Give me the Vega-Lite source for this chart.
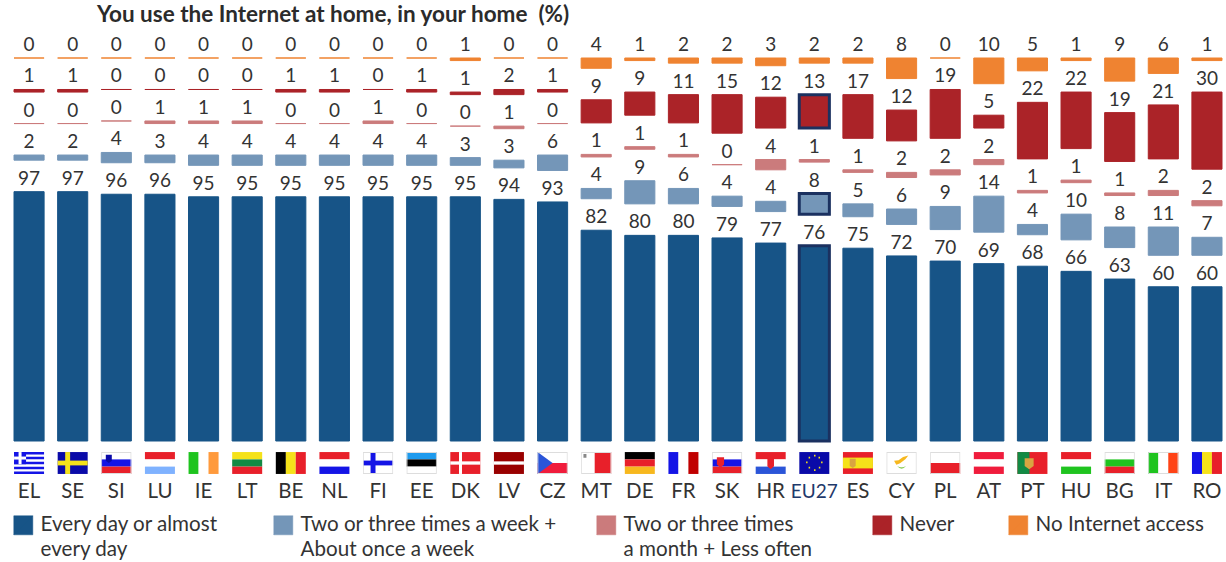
{"$schema":"https://vega.github.io/schema/vega-lite/v6.json","width":1208,"height":383,"autosize":{"type":"none"},"padding":{"left":14,"top":58,"right":4,"bottom":121},"background":"white","config":{"view":{"stroke":null},"text":{"font":"Lato"}},
"title":{"text":"You use the Internet at home, in your home \u00a0(%)","anchor":"start","frame":"group","dx":83,"offset":10,"fontSize":22.5,"fontWeight":"bold","font":"Lato","color":"#2b2b2b"},
"datasets":{"answers":[
{"country":"EL","series":"daily","value":97},{"country":"EL","series":"weekly","value":2},{"country":"EL","series":"monthly","value":0},{"country":"EL","series":"never","value":1},{"country":"EL","series":"no_access","value":0},
{"country":"SE","series":"daily","value":97},{"country":"SE","series":"weekly","value":2},{"country":"SE","series":"monthly","value":0},{"country":"SE","series":"never","value":1},{"country":"SE","series":"no_access","value":0},
{"country":"SI","series":"daily","value":96},{"country":"SI","series":"weekly","value":4},{"country":"SI","series":"monthly","value":0},{"country":"SI","series":"never","value":0},{"country":"SI","series":"no_access","value":0},
{"country":"LU","series":"daily","value":96},{"country":"LU","series":"weekly","value":3},{"country":"LU","series":"monthly","value":1},{"country":"LU","series":"never","value":0},{"country":"LU","series":"no_access","value":0},
{"country":"IE","series":"daily","value":95},{"country":"IE","series":"weekly","value":4},{"country":"IE","series":"monthly","value":1},{"country":"IE","series":"never","value":0},{"country":"IE","series":"no_access","value":0},
{"country":"LT","series":"daily","value":95},{"country":"LT","series":"weekly","value":4},{"country":"LT","series":"monthly","value":1},{"country":"LT","series":"never","value":0},{"country":"LT","series":"no_access","value":0},
{"country":"BE","series":"daily","value":95},{"country":"BE","series":"weekly","value":4},{"country":"BE","series":"monthly","value":0},{"country":"BE","series":"never","value":1},{"country":"BE","series":"no_access","value":0},
{"country":"NL","series":"daily","value":95},{"country":"NL","series":"weekly","value":4},{"country":"NL","series":"monthly","value":0},{"country":"NL","series":"never","value":1},{"country":"NL","series":"no_access","value":0},
{"country":"FI","series":"daily","value":95},{"country":"FI","series":"weekly","value":4},{"country":"FI","series":"monthly","value":1},{"country":"FI","series":"never","value":0},{"country":"FI","series":"no_access","value":0},
{"country":"EE","series":"daily","value":95},{"country":"EE","series":"weekly","value":4},{"country":"EE","series":"monthly","value":0},{"country":"EE","series":"never","value":1},{"country":"EE","series":"no_access","value":0},
{"country":"DK","series":"daily","value":95},{"country":"DK","series":"weekly","value":3},{"country":"DK","series":"monthly","value":0},{"country":"DK","series":"never","value":1},{"country":"DK","series":"no_access","value":1},
{"country":"LV","series":"daily","value":94},{"country":"LV","series":"weekly","value":3},{"country":"LV","series":"monthly","value":1},{"country":"LV","series":"never","value":2},{"country":"LV","series":"no_access","value":0},
{"country":"CZ","series":"daily","value":93},{"country":"CZ","series":"weekly","value":6},{"country":"CZ","series":"monthly","value":0},{"country":"CZ","series":"never","value":1},{"country":"CZ","series":"no_access","value":0},
{"country":"MT","series":"daily","value":82},{"country":"MT","series":"weekly","value":4},{"country":"MT","series":"monthly","value":1},{"country":"MT","series":"never","value":9},{"country":"MT","series":"no_access","value":4},
{"country":"DE","series":"daily","value":80},{"country":"DE","series":"weekly","value":9},{"country":"DE","series":"monthly","value":1},{"country":"DE","series":"never","value":9},{"country":"DE","series":"no_access","value":1},
{"country":"FR","series":"daily","value":80},{"country":"FR","series":"weekly","value":6},{"country":"FR","series":"monthly","value":1},{"country":"FR","series":"never","value":11},{"country":"FR","series":"no_access","value":2},
{"country":"SK","series":"daily","value":79},{"country":"SK","series":"weekly","value":4},{"country":"SK","series":"monthly","value":0},{"country":"SK","series":"never","value":15},{"country":"SK","series":"no_access","value":2},
{"country":"HR","series":"daily","value":77},{"country":"HR","series":"weekly","value":4},{"country":"HR","series":"monthly","value":4},{"country":"HR","series":"never","value":12},{"country":"HR","series":"no_access","value":3},
{"country":"EU27","series":"daily","value":76},{"country":"EU27","series":"weekly","value":8},{"country":"EU27","series":"monthly","value":1},{"country":"EU27","series":"never","value":13},{"country":"EU27","series":"no_access","value":2},
{"country":"ES","series":"daily","value":75},{"country":"ES","series":"weekly","value":5},{"country":"ES","series":"monthly","value":1},{"country":"ES","series":"never","value":17},{"country":"ES","series":"no_access","value":2},
{"country":"CY","series":"daily","value":72},{"country":"CY","series":"weekly","value":6},{"country":"CY","series":"monthly","value":2},{"country":"CY","series":"never","value":12},{"country":"CY","series":"no_access","value":8},
{"country":"PL","series":"daily","value":70},{"country":"PL","series":"weekly","value":9},{"country":"PL","series":"monthly","value":2},{"country":"PL","series":"never","value":19},{"country":"PL","series":"no_access","value":0},
{"country":"AT","series":"daily","value":69},{"country":"AT","series":"weekly","value":14},{"country":"AT","series":"monthly","value":2},{"country":"AT","series":"never","value":5},{"country":"AT","series":"no_access","value":10},
{"country":"PT","series":"daily","value":68},{"country":"PT","series":"weekly","value":4},{"country":"PT","series":"monthly","value":1},{"country":"PT","series":"never","value":22},{"country":"PT","series":"no_access","value":5},
{"country":"HU","series":"daily","value":66},{"country":"HU","series":"weekly","value":10},{"country":"HU","series":"monthly","value":1},{"country":"HU","series":"never","value":22},{"country":"HU","series":"no_access","value":1},
{"country":"BG","series":"daily","value":63},{"country":"BG","series":"weekly","value":8},{"country":"BG","series":"monthly","value":1},{"country":"BG","series":"never","value":19},{"country":"BG","series":"no_access","value":9},
{"country":"IT","series":"daily","value":60},{"country":"IT","series":"weekly","value":11},{"country":"IT","series":"monthly","value":2},{"country":"IT","series":"never","value":21},{"country":"IT","series":"no_access","value":6},
{"country":"RO","series":"daily","value":60},{"country":"RO","series":"weekly","value":7},{"country":"RO","series":"monthly","value":2},{"country":"RO","series":"never","value":30},{"country":"RO","series":"no_access","value":1}
],
"flags":[
{"c":"EL","p":"full","t":"white"},{"c":"EL","p":"grstripes","t":"blue"},{"c":"EL","p":"canton","t":"blue"},{"c":"EL","p":"cantonv","t":"white"},{"c":"EL","p":"cantonh","t":"white"},
{"c":"SE","p":"full","t":"navy"},{"c":"SE","p":"crossv","t":"yellow"},{"c":"SE","p":"crossh","t":"yellow"},
{"c":"SI","p":"h3a","t":"white"},{"c":"SI","p":"h3b","t":"blue"},{"c":"SI","p":"h3c","t":"red"},{"c":"SI","p":"shieldtl","t":"navy"},{"c":"SI","p":"frame","t":"grey"},
{"c":"LU","p":"h3a","t":"red"},{"c":"LU","p":"h3b","t":"white"},{"c":"LU","p":"h3c","t":"skyblue"},
{"c":"IE","p":"v3a","t":"green"},{"c":"IE","p":"v3b","t":"white"},{"c":"IE","p":"v3c","t":"orange"},
{"c":"LT","p":"h3a","t":"yellow"},{"c":"LT","p":"h3b","t":"darkgreen"},{"c":"LT","p":"h3c","t":"red"},
{"c":"BE","p":"v3a","t":"black"},{"c":"BE","p":"v3b","t":"yellow"},{"c":"BE","p":"v3c","t":"red"},
{"c":"NL","p":"h3a","t":"red"},{"c":"NL","p":"h3b","t":"white"},{"c":"NL","p":"h3c","t":"blue"},
{"c":"FI","p":"full","t":"white"},{"c":"FI","p":"crossv","t":"blue"},{"c":"FI","p":"crossh","t":"blue"},{"c":"FI","p":"frame","t":"grey"},
{"c":"EE","p":"h3a","t":"azure"},{"c":"EE","p":"h3b","t":"black"},{"c":"EE","p":"h3c","t":"white"},{"c":"EE","p":"frame","t":"grey"},
{"c":"DK","p":"full","t":"red"},{"c":"DK","p":"thinv","t":"white"},{"c":"DK","p":"thinh","t":"white"},
{"c":"LV","p":"full","t":"maroon"},{"c":"LV","p":"thinh","t":"white"},
{"c":"CZ","p":"h2a","t":"white"},{"c":"CZ","p":"h2b","t":"crimson"},{"c":"CZ","p":"hoist","t":"royal"},{"c":"CZ","p":"frame","t":"grey"},
{"c":"MT","p":"v2a","t":"white"},{"c":"MT","p":"v2b","t":"red"},{"c":"MT","p":"dot","t":"darkgrey"},{"c":"MT","p":"frame","t":"grey"},
{"c":"DE","p":"h3a","t":"black"},{"c":"DE","p":"h3b","t":"red"},{"c":"DE","p":"h3c","t":"gold"},
{"c":"FR","p":"v3a","t":"blue"},{"c":"FR","p":"v3b","t":"white"},{"c":"FR","p":"v3c","t":"firebrick"},
{"c":"SK","p":"h3a","t":"white"},{"c":"SK","p":"h3b","t":"blue"},{"c":"SK","p":"h3c","t":"red"},{"c":"SK","p":"shieldl","t":"red"},{"c":"SK","p":"frame","t":"grey"},
{"c":"HR","p":"h3a","t":"red"},{"c":"HR","p":"h3b","t":"white"},{"c":"HR","p":"h3c","t":"royal"},{"c":"HR","p":"shieldc","t":"red"},
{"c":"EU27","p":"full","t":"navy"},{"c":"EU27","p":"stars","t":"yellow"},
{"c":"ES","p":"full","t":"red"},{"c":"ES","p":"midwide","t":"yellow"},{"c":"ES","p":"shieldes","t":"tan"},
{"c":"CY","p":"full","t":"white"},{"c":"CY","p":"island","t":"gold"},{"c":"CY","p":"sprig","t":"leaf"},{"c":"CY","p":"frame","t":"grey"},
{"c":"PL","p":"h2a","t":"white"},{"c":"PL","p":"h2b","t":"red"},{"c":"PL","p":"frame","t":"grey"},
{"c":"AT","p":"h3a","t":"crimson"},{"c":"AT","p":"h3b","t":"white"},{"c":"AT","p":"h3c","t":"crimson"},
{"c":"PT","p":"full","t":"red"},{"c":"PT","p":"hoist2","t":"darkgreen"},{"c":"PT","p":"shieldpt","t":"tan"},
{"c":"HU","p":"h3a","t":"red"},{"c":"HU","p":"h3b","t":"white"},{"c":"HU","p":"h3c","t":"green"},
{"c":"BG","p":"h3a","t":"white"},{"c":"BG","p":"h3b","t":"green"},{"c":"BG","p":"h3c","t":"red"},{"c":"BG","p":"frame","t":"grey"},
{"c":"IT","p":"v3a","t":"green"},{"c":"IT","p":"v3b","t":"white"},{"c":"IT","p":"v3c","t":"vermilion"},{"c":"IT","p":"frame","t":"grey"},
{"c":"RO","p":"v3a","t":"blue"},{"c":"RO","p":"v3b","t":"yellow"},{"c":"RO","p":"v3c","t":"red"}
]},
"layer":[
{"data":{"name":"answers"},
"transform":[{"calculate":"indexof(['daily','weekly','monthly','never','no_access'],datum.series)","as":"rank"},{"stack":"value","groupby":["country"],"sort":[{"field":"rank","order":"ascending"}],"as":["s0","s1"]},{"calculate":"datum.s0+datum.rank*12.25","as":"base"},{"calculate":"datum.s1+datum.rank*12.25","as":"top"}],
"encoding":{
"x":{"field":"country","type":"nominal","sort":null,"title":null,"scale":{"domain":["EL","SE","SI","LU","IE","LT","BE","NL","FI","EE","DK","LV","CZ","MT","DE","FR","SK","HR","EU27","ES","CY","PL","AT","PT","HU","BG","IT","RO"],"paddingInner":0.31,"paddingOuter":0},"axis":{"orient":"bottom","domain":false,"ticks":false,"labelAngle":0,"labelPadding":50,"labelFont":"Lato","labelFontSize":{"condition":{"test":"datum.value==='EU27'","value":19},"value":20.5},"labelColor":{"condition":{"test":"datum.value==='EU27'","value":"#1f3a6b"},"value":"#333333"},"labelBaseline":"middle"}},
"y":{"field":"top","type":"quantitative","title":null,"scale":{"domain":[0,149],"nice":false},"axis":null}
},
"layer":[
{"mark":{"type":"bar","strokeWidth":1},"encoding":{"y2":{"field":"base"},
"color":{"field":"series","type":"nominal","scale":{"domain":["daily","weekly","monthly","never","no_access"],"range":["#175487","#7496b8","#cb7b7c","#ab2328","#ef8331"]},
"legend":{"orient":"none","legendX":-1,"legendY":457,"direction":"horizontal","columns":5,"gridAlign":"none","columnPadding":37,"title":null,"symbolType":"M-1,-1H1V1H-1ZM-1,1L1,-1","symbolSize":361,"symbolStrokeWidth":0.5,"symbolStrokeColor":"#00000055","labelFont":"Lato","labelFontSize":20.6,"labelColor":"#333333","labelLimit":400,"labelOffset":7,
"encode":{"labels":{"update":{"lineHeight":{"value":25}}}},
"labelExpr":"datum.label==='daily'?['Every day or almost\u00a0\u00a0\u00a0\u200b','every day']:datum.label==='weekly'?['Two or three times a week +','About once a week']:datum.label==='monthly'?['Two or three times','a month + Less often\u00a0\u00a0\u00a0\u00a0\u200b']:datum.label==='never'?'Never\u00a0\u00a0\u00a0\u200b':'No Internet access'"}},
"stroke":{"field":"series","type":"nominal","legend":null,"scale":{"domain":["daily","weekly","monthly","never","no_access"],"range":["#175487","#7496b8","#cb7b7c","#ab2328","#ef8331"]}}}},
{"transform":[{"filter":"datum.country==='EU27'&&indexof(['daily','weekly','never'],datum.series)>=0"}],"mark":{"type":"bar","fillOpacity":0,"stroke":"#1b3160","strokeWidth":3},"encoding":{"y2":{"field":"base"}}},
{"mark":{"type":"text","dy":-7,"baseline":"alphabetic","align":"center","fontSize":19,"font":"Lato","color":"#333333"},"encoding":{"text":{"field":"value","type":"quantitative"}}}
]},
{"data":{"name":"flags"},
"mark":{"type":"point","filled":true,"size":900,"opacity":1,"strokeWidth":0},
"encoding":{
"x":{"field":"c","type":"nominal","sort":null,"title":null},
"y":{"datum":-8.56,"type":"quantitative","scale":{"domain":[0,149],"nice":false}},
"fill":{"field":"t","type":"nominal","legend":null,"scale":{"domain":["white","blue","navy","yellow","red","skyblue","green","orange","darkgreen","black","azure","maroon","crimson","royal","darkgrey","gold","firebrick","tan","leaf","vermilion","grey"],"range":["#ffffff","#1414e6","#0a0aa8","#f5e21a","#e8202a","#7fb2ff","#1fc41f","#ff9a3c","#128a44","#000000","#1e9bee","#990000","#f01c3c","#2b55d8","#888888","#f7b81e","#c00000","#d9a441","#8fce5a","#ff4316","#dddddd"]}},
"shape":{"field":"p","type":"nominal","legend":null,"scale":{"domain":["full","h3a","h3b","h3c","v3a","v3b","v3c","h2a","h2b","v2a","v2b","crossv","crossh","thinv","thinh","grstripes","canton","cantonv","cantonh","hoist","hoist2","midwide","shieldtl","shieldl","shieldc","shieldes","shieldpt","dot","stars","island","sprig","frame"],
"range":["M-1,-.73H1V.73H-1Z","M-1,-.73H1V-.24H-1Z","M-1,-.24H1V.24H-1Z","M-1,.24H1V.73H-1Z","M-1,-.73H-.33V.73H-1Z","M-.33,-.73H.33V.73H-.33Z","M.33,-.73H1V.73H.33Z","M-1,-.73H1V0H-1Z","M-1,0H1V.73H-1Z","M-1,-.73H-.1V.73H-1Z","M-.1,-.73H1V.73H-.1Z","M-.5,-.73H-.17V.73H-.5Z","M-1,-.16H1V.16H-1Z","M-.42,-.73H-.22V.73H-.42Z","M-1,-.11H1V.11H-1Z","M-1,-.73H1V-.57H-1ZM-1,-.41H1V-.25H-1ZM-1,-.08H1V.08H-1ZM-1,.25H1V.41H-1ZM-1,.57H1V.73H-1Z","M-1,-.73H-.2V.08H-1Z","M-.7,-.73H-.5V.08H-.7Z","M-1,-.43H-.2V-.23H-1Z","M-1,-.73L0,0L-1,.73Z","M-1,-.73H-.2V.73H-1Z","M-1,-.36H1V.36H-1Z","M-.7,-.55H-.3V-.15L-.5,0L-.7,-.15Z","M-.68,-.38H-.2V.1L-.44,.32L-.68,.1Z","M-.22,-.38H.22V.22L0,.42L-.22,.22Z","M-.55,-.28H-.15V.2L-.35,.34L-.55,.2Z","M-.52,-.32H.08V.2L-.22,.42L-.52,.2Z","M-.85,-.6H-.65V-.35H-.85Z","M-.02,-.55h.1v.12h-.1zM.28,-.42h.1v.12h-.1zM.45,-.1h.1v.12h-.1zM.3,.25h.1v.12h-.1zM-.02,.42h.1v.12h-.1zM-.38,.25h.1v.12h-.1zM-.55,-.1h.1v.12h-.1zM-.38,-.42h.1v.12h-.1z","M-.5,-.15L-.2,-.18L.1,-.4L.45,-.5L.25,-.25L-.1,.02L-.35,.12Z","M-.3,.2Q0,.55.3,.2Q0,.38-.3,.2Z","M-1,-.73H1V.73H-1ZM-.95,-.67V.67H.95V-.67Z"]}}
}}
]}
